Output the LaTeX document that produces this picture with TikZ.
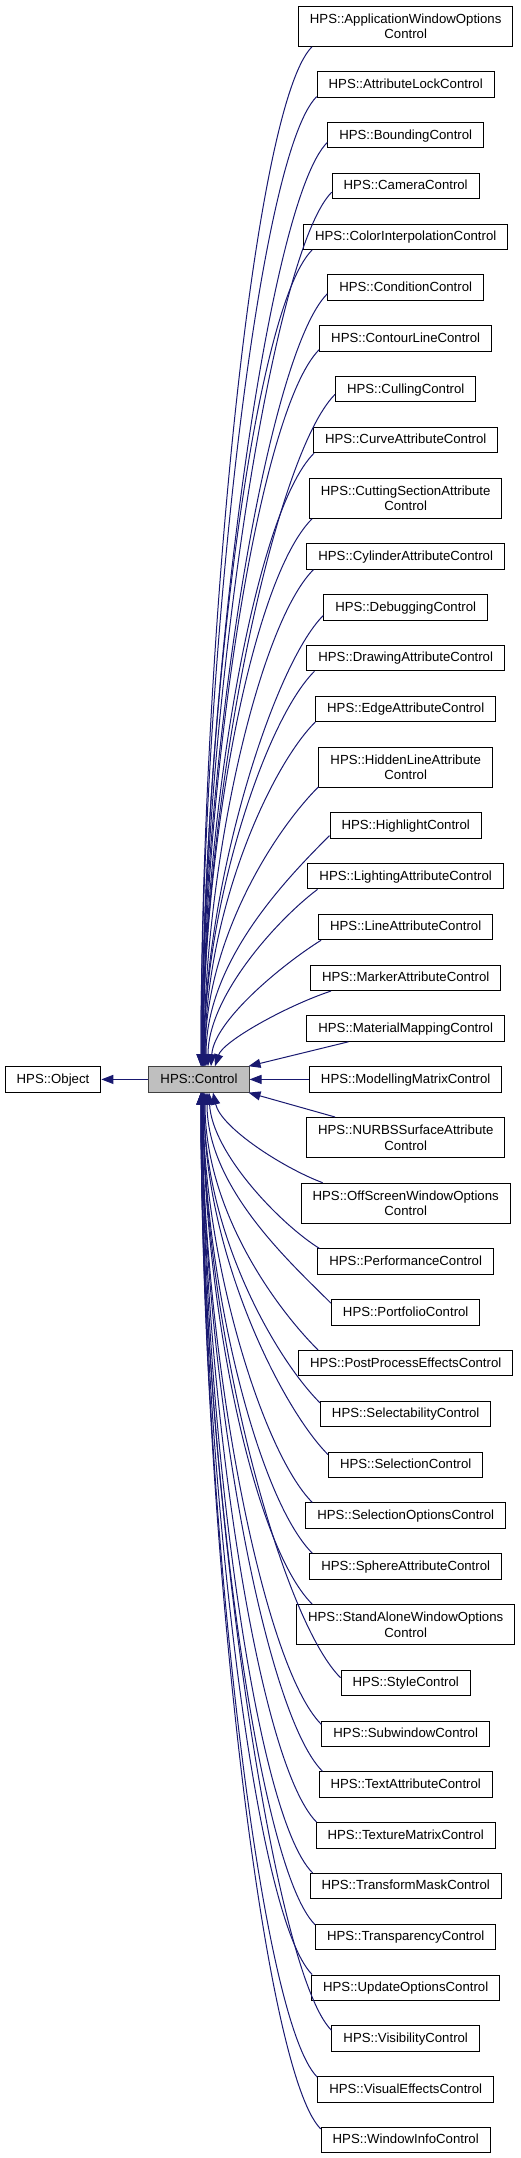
\documentclass[tikz,border=0pt]{standalone}
\usepackage{fontspec}
\setmainfont{Liberation Sans}
\usetikzlibrary{arrows.meta,calc}
\definecolor{edgeblue}{HTML}{191970}
\definecolor{ctlfill}{HTML}{BFBFBF}
\definecolor{ctlline}{HTML}{404040}
\begin{document}
\begin{tikzpicture}[x=1pt,y=-1pt,
  cls/.style={draw=black, line width=1pt, fill=white,
    font=\fontsize{13.2}{15.3}\selectfont, inner xsep=11.5pt, inner ysep=0pt,
    minimum height=25.4pt, text height=9.6pt, text depth=2pt},
  clstwo/.style={draw=black, line width=1pt, fill=white,
    font=\fontsize{13.2}{15.3}\selectfont, inner xsep=11.5pt, inner ysep=0pt,
    minimum height=40.3pt, align=center},
  ctlbox/.style={cls, fill=ctlfill, draw=ctlline},
  edge/.style={draw=edgeblue, line width=1pt, {Triangle[length=12pt,width=9pt]}-}]
\useasboundingbox (0,0) rectangle (520,2158);

\node[cls] (obj) at (53,1079.4) {HPS::Object};
\node[ctlbox] (ctl) at (199,1079.4) {HPS::Control};

\node[clstwo] (c1) at (405.7,26.15) {HPS::ApplicationWindowOptions\\Control};
\node[cls] (c2) at (405.7,84.4) {HPS::AttributeLockControl};
\node[cls] (c3) at (405.7,135.2) {HPS::BoundingControl};
\node[cls] (c4) at (405.7,186) {HPS::CameraControl};
\node[cls] (c5) at (405.7,236.8) {HPS::ColorInterpolationControl};
\node[cls] (c6) at (405.7,287.6) {HPS::ConditionControl};
\node[cls] (c7) at (405.7,338.4) {HPS::ContourLineControl};
\node[cls] (c8) at (405.7,389.2) {HPS::CullingControl};
\node[cls] (c9) at (405.7,440) {HPS::CurveAttributeControl};
\node[clstwo] (c10) at (405.7,498.25) {HPS::CuttingSectionAttribute\\Control};
\node[cls] (c11) at (405.7,556.5) {HPS::CylinderAttributeControl};
\node[cls] (c12) at (405.7,607.3) {HPS::DebuggingControl};
\node[cls] (c13) at (405.7,658.1) {HPS::DrawingAttributeControl};
\node[cls] (c14) at (405.7,708.9) {HPS::EdgeAttributeControl};
\node[clstwo] (c15) at (405.7,767.15) {HPS::HiddenLineAttribute\\Control};
\node[cls] (c16) at (405.7,825.4) {HPS::HighlightControl};
\node[cls] (c17) at (405.7,876.2) {HPS::LightingAttributeControl};
\node[cls] (c18) at (405.7,927) {HPS::LineAttributeControl};
\node[cls] (c19) at (405.7,977.8) {HPS::MarkerAttributeControl};
\node[cls] (c20) at (405.7,1028.6) {HPS::MaterialMappingControl};
\node[cls] (c21) at (405.7,1079.4) {HPS::ModellingMatrixControl};
\node[clstwo] (c22) at (405.7,1137.65) {HPS::NURBSSurfaceAttribute\\Control};
\node[clstwo] (c23) at (405.7,1203.35) {HPS::OffScreenWindowOptions\\Control};
\node[cls] (c24) at (405.7,1261.6) {HPS::PerformanceControl};
\node[cls] (c25) at (405.7,1312.4) {HPS::PortfolioControl};
\node[cls] (c26) at (405.7,1363.2) {HPS::PostProcessEffectsControl};
\node[cls] (c27) at (405.7,1414) {HPS::SelectabilityControl};
\node[cls] (c28) at (405.7,1464.8) {HPS::SelectionControl};
\node[cls] (c29) at (405.7,1515.6) {HPS::SelectionOptionsControl};
\node[cls] (c30) at (405.7,1566.4) {HPS::SphereAttributeControl};
\node[clstwo] (c31) at (405.7,1624.65) {HPS::StandAloneWindowOptions\\Control};
\node[cls] (c32) at (405.7,1682.9) {HPS::StyleControl};
\node[cls] (c33) at (405.7,1733.7) {HPS::SubwindowControl};
\node[cls] (c34) at (405.7,1784.5) {HPS::TextAttributeControl};
\node[cls] (c35) at (405.7,1835.3) {HPS::TextureMatrixControl};
\node[cls] (c36) at (405.7,1886.1) {HPS::TransformMaskControl};
\node[cls] (c37) at (405.7,1936.9) {HPS::TransparencyControl};
\node[cls] (c38) at (405.7,1987.7) {HPS::UpdateOptionsControl};
\node[cls] (c39) at (405.7,2038.5) {HPS::VisibilityControl};
\node[cls] (c40) at (405.7,2089.3) {HPS::VisualEffectsControl};
\node[cls] (c41) at (405.7,2140.1) {HPS::WindowInfoControl};

% base class
\draw[edge] (obj.east) -- (ctl.west);

% upper children
\draw[edge] ([xshift=2pt]ctl.north) .. controls +(0,-408) and +(-60,60) .. ($(c1.south west)+(14,0)$);
\draw[edge] ([xshift=2pt]ctl.north) .. controls +(0,-388) and +(-60,60) .. ($(c2.south west)+(0,-1)$);
\draw[edge] ([xshift=3pt]ctl.north) .. controls +(0,-370) and +(-60,60) .. ($(c3.south west)+(0,-6)$);
\draw[edge] ([xshift=3pt]ctl.north) .. controls +(0,-350) and +(-60,60) .. ($(c4.south west)+(0,-7)$);
\draw[edge] ([xshift=3pt]ctl.north) .. controls +(0,-327) and +(-60,60) .. ($(c5.south west)+(9,0)$);
\draw[edge] ([xshift=3pt]ctl.north) .. controls +(0,-310) and +(-60,60) .. ($(c6.south west)+(0,-7)$);
\draw[edge] ([xshift=4pt]ctl.north) .. controls +(0,-287) and +(-60,60) .. ($(c7.south west)+(0,-2)$);
\draw[edge] ([xshift=4pt]ctl.north) .. controls +(0,-269) and +(-60,60) .. ($(c8.south west)+(0,-8)$);
\draw[edge] ([xshift=4pt]ctl.north) .. controls +(0,-246) and +(-60,60) .. ($(c9.south west)+(1,0)$);
\draw[edge] ([xshift=4pt]ctl.north) .. controls +(0,-220) and +(-60,60) .. ($(c10.south west)+(3,0)$);
\draw[edge] ([xshift=5pt]ctl.north) .. controls +(0,-199) and +(-55,55) .. ($(c11.south west)+(7,0)$);
\draw[edge] ([xshift=5pt]ctl.north) .. controls +(0,-181) and +(-50,50) .. ($(c12.south west)+(0,-5)$);
\draw[edge] ([xshift=5pt]ctl.north) .. controls +(0,-158) and +(-50,50) .. ($(c13.south west)+(8,0)$);
\draw[edge] ([xshift=6pt]ctl.north) .. controls +(0,-155) and +(-45,45) .. ($(c14.south west)+(0,0)$);
\draw[edge] ([xshift=6pt]ctl.north) .. controls +(0,-126) and +(-45,45) .. ($(c15.south west)+(0,-1)$);
\draw[edge] ([xshift=7pt]ctl.north) .. controls +(0,-104) and +(-45,45) .. ($(c16.south west)+(0,-3)$);
\draw[edge] ([xshift=9pt]ctl.north) .. controls +(0,-70) and +(-40,30) .. ($(c17.south west)+(10,0)$);
\draw[edge] ([xshift=12pt]ctl.north) .. controls +(3,-45) and +(-40,25) .. ($(c18.south west)+(3,0)$);
\draw[edge] ([xshift=16pt]ctl.north) .. controls +(8,-25) and +(-45,15) .. ($(c19.south west)+(21,0)$);
\draw[edge] ([xshift=-1pt]ctl.north east) -- ($(c20.south west)+(42,0)$);
\draw[edge] (ctl.east) -- (c21.west);
\draw[edge] ([xshift=-1pt]ctl.south east) -- ($(c22.north west)+(29,0)$);

% lower children
\draw[edge] ([xshift=14pt]ctl.south) .. controls +(8,35) and +(-40,-15) .. ($(c23.north west)+(22,0)$);
\draw[edge] ([xshift=10pt]ctl.south) .. controls +(3,60) and +(-40,-25) .. ($(c24.north west)+(2,0)$);
\draw[edge] ([xshift=8pt]ctl.south) .. controls +(0,95) and +(-40,-40) .. ($(c25.north west)+(0,4)$);
\draw[edge] ([xshift=6pt]ctl.south) .. controls +(0,116) and +(-45,-45) .. ($(c26.north west)+(20,0)$);
\draw[edge] ([xshift=5pt]ctl.south) .. controls +(0,140) and +(-45,-45) .. ($(c27.north west)+(0,2)$);
\draw[edge] ([xshift=5pt]ctl.south) .. controls +(0,163) and +(-45,-45) .. ($(c28.north west)+(0,3)$);
\draw[edge] ([xshift=4pt]ctl.south) .. controls +(0,164) and +(-50,-50) .. ($(c29.north west)+(7,0)$);
\draw[edge] ([xshift=4pt]ctl.south) .. controls +(0,185) and +(-55,-55) .. ($(c30.north west)+(3,0)$);
\draw[edge] ([xshift=4pt]ctl.south) .. controls +(0,205) and +(-60,-60) .. ($(c31.north west)+(16,0)$);
\draw[edge] ([xshift=4pt]ctl.south) .. controls +(0,234) and +(-60,-60) .. ($(c32.north west)+(0,8)$);
\draw[edge] ([xshift=3pt]ctl.south) .. controls +(0,253) and +(-60,-60) .. ($(c33.north west)+(0,4)$);
\draw[edge] ([xshift=3pt]ctl.south) .. controls +(0,272) and +(-60,-60) .. ($(c34.north west)+(4,0)$);
\draw[edge] ([xshift=3pt]ctl.south) .. controls +(0,292) and +(-60,-60) .. ($(c35.north west)+(1,0)$);
\draw[edge] ([xshift=3pt]ctl.south) .. controls +(0,312) and +(-60,-60) .. ($(c36.north west)+(3,0)$);
\draw[edge] ([xshift=2pt]ctl.south) .. controls +(0,333) and +(-60,-60) .. ($(c37.north west)+(0,1)$);
\draw[edge] ([xshift=2pt]ctl.south) .. controls +(0,353) and +(-60,-60) .. ($(c38.north west)+(1,0)$);
\draw[edge] ([xshift=2pt]ctl.south) .. controls +(0,376) and +(-60,-60) .. ($(c39.north west)+(0,5)$);
\draw[edge] ([xshift=2pt]ctl.south) .. controls +(0,394) and +(-60,-60) .. ($(c40.north west)+(0,1)$);
\draw[edge] ([xshift=2pt]ctl.south) .. controls +(0,415) and +(-60,-60) .. ($(c41.north west)+(0,2)$);
\end{tikzpicture}
\end{document}
